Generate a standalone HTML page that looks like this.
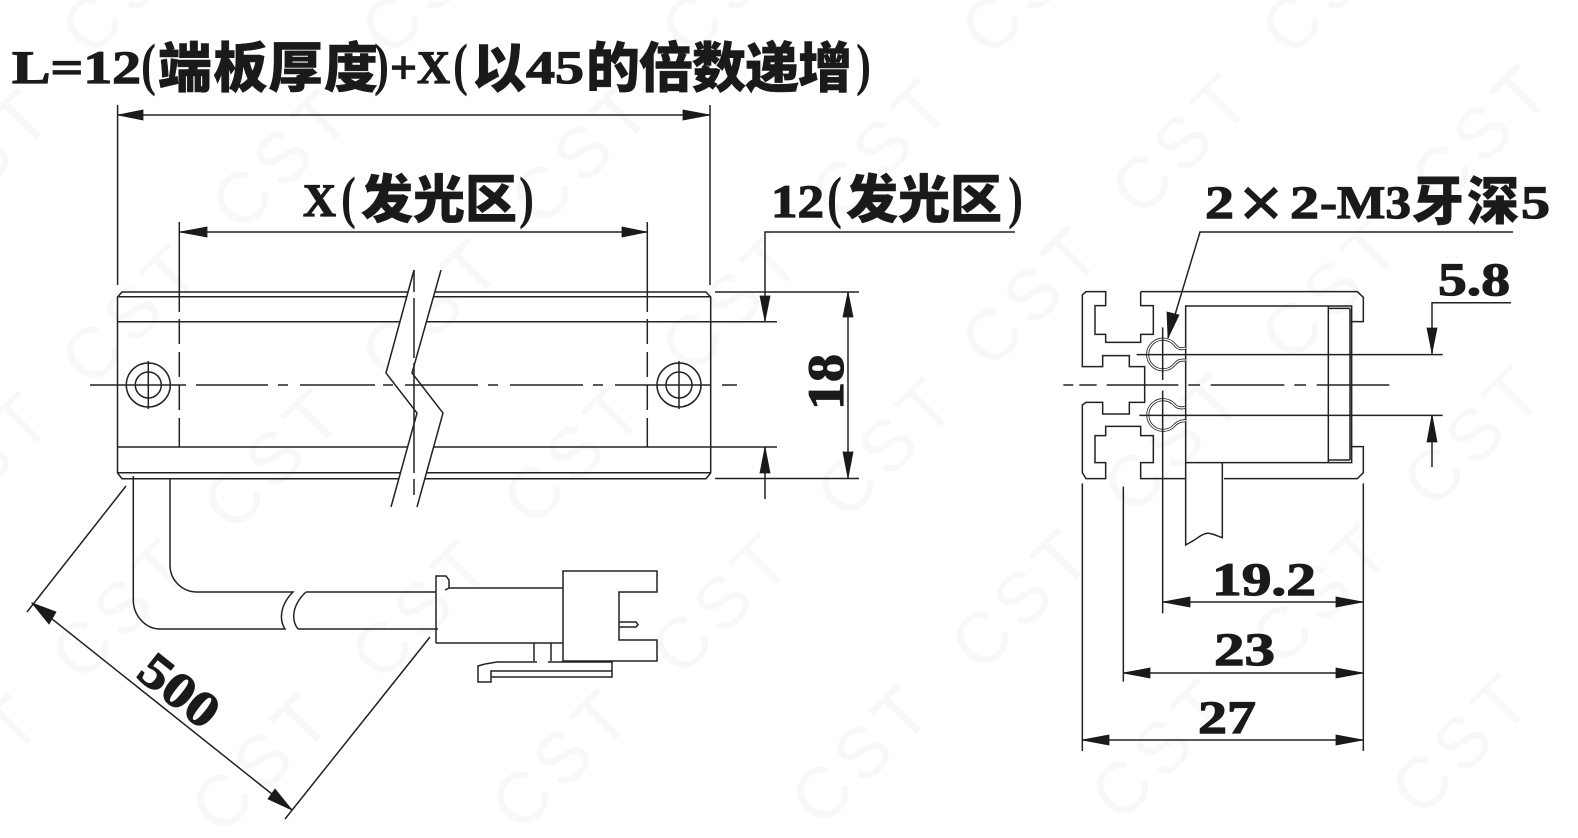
<!DOCTYPE html>
<html><head><meta charset="utf-8"><style>
html,body{margin:0;padding:0;background:#fff}
svg{display:block}
.l{font-family:"Liberation Serif",serif;font-weight:700;font-size:47px;fill:#1a1a1a;stroke:#1a1a1a;stroke-width:1.2px}
.c{font-family:"Noto Sans CJK SC","Noto Serif CJK SC",sans-serif;font-weight:900;fill:#1a1a1a;stroke:#1a1a1a;stroke-width:.5px}
.p{font-family:"Liberation Serif",serif;font-weight:700;font-size:58px;fill:#1a1a1a}
.w{font-family:"Liberation Sans",sans-serif;font-size:72px;letter-spacing:8px;fill:#f8f8f8;text-anchor:middle}
.s{fill:none;stroke:#222;stroke-width:1.5}
.a{fill:#1a1a1a;stroke:#1a1a1a;stroke-width:.8}
</style></head><body>
<svg width="1578" height="838" viewBox="0 0 1578 838" xmlns="http://www.w3.org/2000/svg">
<rect width="1578" height="838" fill="#fff"/>
<g>
<text class="w" transform="translate(150,0) rotate(-45)">CST</text><text class="w" transform="translate(450,0) rotate(-45)">CST</text><text class="w" transform="translate(750,0) rotate(-45)">CST</text><text class="w" transform="translate(1050,0) rotate(-45)">CST</text><text class="w" transform="translate(1350,0) rotate(-45)">CST</text>
<text class="w" transform="translate(0,175) rotate(-45)">CST</text><text class="w" transform="translate(300,175) rotate(-45)">CST</text><text class="w" transform="translate(600,170) rotate(-45)">CST</text><text class="w" transform="translate(900,165) rotate(-45)">CST</text><text class="w" transform="translate(1200,160) rotate(-45)">CST</text><text class="w" transform="translate(1500,150) rotate(-45)">CST</text>
<text class="w" transform="translate(150,330) rotate(-45)">CST</text><text class="w" transform="translate(450,325) rotate(-45)">CST</text><text class="w" transform="translate(750,318) rotate(-45)">CST</text><text class="w" transform="translate(1050,312) rotate(-45)">CST</text><text class="w" transform="translate(1350,306) rotate(-45)">CST</text>
<text class="w" transform="translate(0,478) rotate(-45)">CST</text><text class="w" transform="translate(292,475) rotate(-45)">CST</text><text class="w" transform="translate(592,470) rotate(-45)">CST</text><text class="w" transform="translate(905,463) rotate(-45)">CST</text><text class="w" transform="translate(1192,458) rotate(-45)">CST</text><text class="w" transform="translate(1492,452) rotate(-45)">CST</text>
<text class="w" transform="translate(140,625) rotate(-45)">CST</text><text class="w" transform="translate(440,625) rotate(-45)">CST</text><text class="w" transform="translate(740,620) rotate(-45)">CST</text><text class="w" transform="translate(1040,615) rotate(-45)">CST</text><text class="w" transform="translate(1340,610) rotate(-45)">CST</text>
<text class="w" transform="translate(-10,780) rotate(-45)">CST</text><text class="w" transform="translate(280,778) rotate(-45)">CST</text><text class="w" transform="translate(580,775) rotate(-45)">CST</text><text class="w" transform="translate(880,770) rotate(-45)">CST</text><text class="w" transform="translate(1180,765) rotate(-45)">CST</text><text class="w" transform="translate(1480,760) rotate(-45)">CST</text>
</g>

<!-- Title -->
<text class="l" x="12" y="83" textLength="129" lengthAdjust="spacingAndGlyphs">L=12</text>
<text class="p" x="141" y="84" textLength="15" lengthAdjust="spacingAndGlyphs">(</text>
<text class="c" x="158" y="87" font-size="54" textLength="220" lengthAdjust="spacing">端板厚度</text>
<text class="p" x="374" y="84" textLength="15" lengthAdjust="spacingAndGlyphs">)</text>
<text class="l" x="390" y="83" textLength="27" lengthAdjust="spacingAndGlyphs">+</text>
<text class="l" x="417" y="83" textLength="33" lengthAdjust="spacingAndGlyphs">X</text>
<text class="p" x="453" y="84" textLength="15" lengthAdjust="spacingAndGlyphs">(</text>
<text class="c" x="472" y="87" font-size="54">以</text>
<text class="l" x="526" y="83" textLength="58" lengthAdjust="spacingAndGlyphs">45</text>
<text class="c" x="586" y="87" font-size="54" textLength="266" lengthAdjust="spacing">的倍数递增</text>
<text class="p" x="856" y="84" textLength="15" lengthAdjust="spacingAndGlyphs">)</text>

<!-- L dim -->
<path class="s" d="M117.6,105V285M710,105V285M118,115H710"/>
<polygon class="a" points="118,115 143,110 143,120"/><polygon class="a" points="710,115 683,110 683,120"/>

<!-- X dim -->
<text class="l" x="303" y="216" textLength="33" lengthAdjust="spacingAndGlyphs">X</text>
<text class="p" x="341" y="217" textLength="15" lengthAdjust="spacingAndGlyphs">(</text>
<text class="c" x="361" y="218" font-size="52" textLength="156" lengthAdjust="spacing">发光区</text>
<text class="p" x="519" y="217" textLength="15" lengthAdjust="spacingAndGlyphs">)</text>
<path class="s" d="M179.5,232H647"/>
<polygon class="a" points="180,232 207,227 207,237"/><polygon class="a" points="647,232 622,227 622,237"/>

<!-- Main bar -->
<path class="s" d="M122,292H706L710.7,297V473L706,478.7H122L117.5,473V297Z M117.5,296.7H710.7 M117.5,321.7H710.7 M117.5,447H710.7 M117.5,472.7H710.7"/>
<path class="s" d="M133.3,476V600C133.3,615 145,629 160,629H285C279,620 280,605 293,592H197C182,592 170,580 170,565V478"/>
<path class="s" d="M306,592H436M298,629C291,620 292,605 306,592M298,629H438"/>

<!-- Break -->
<polygon fill="#fff" points="414,270 386,373 417,413 391,507 417,507 443,413 412,373 441,270"/>
<path class="s" d="M414,270L386,373L417,413L391,507M441,270L412,373L443,413L417,507"/>
<path class="s" d="M414,270V495" stroke-dasharray="22 6 60 5 110 6"/>

<!-- Centre lines -->
<path class="s" d="M90,385H186" stroke-width="1.2"/>
<path class="s" stroke-width="1.2" d="M196,385H268M278,385H288M300,385H375M383,385H393M405,385H478M488,385H498M510,385H583M593,385H603M615,385H710M722,385H737"/>
<path class="s" d="M179.3,222V312M179.3,319V344M179.3,352V377M179.3,385V410M179.3,418V447M647.3,222V312M647.3,319V344M647.3,352V377M647.3,385V410M647.3,418V447"/>
<g class="s" stroke-width="1.2">
<circle cx="148.3" cy="385" r="22"/><circle cx="148.3" cy="385" r="13"/><path d="M148.3,361V409"/>
<circle cx="679" cy="385" r="22"/><circle cx="679" cy="385" r="13"/><path d="M679,361V409"/>
</g>

<!-- 12 dim -->
<text class="l" x="771" y="217" textLength="53" lengthAdjust="spacingAndGlyphs">12</text>
<text class="p" x="827" y="217" textLength="15" lengthAdjust="spacingAndGlyphs">(</text>
<text class="c" x="846" y="218" font-size="52" textLength="156" lengthAdjust="spacing">发光区</text>
<text class="p" x="1008" y="217" textLength="15" lengthAdjust="spacingAndGlyphs">)</text>
<path class="s" d="M1015,232H765V322M715,292H859M710,321.7H777M710,447H777M715,478.5H859M765,447V499M848,292V478"/>
<polygon class="a" points="765,321 760,296 770,296"/><polygon class="a" points="765,447 760,473 770,473"/>
<polygon class="a" points="848,292 843,317 853,317"/><polygon class="a" points="848,478 843,452 853,452"/>
<text class="l" transform="translate(843,410) rotate(-90)" font-size="51" textLength="56" lengthAdjust="spacingAndGlyphs" style="font-size:51px">18</text>

<!-- 500 dim -->
<path class="s" stroke-width="1.2" d="M126,486L27,612M430,637L285,819M32,603L292,810"/>
<polygon class="a" points="32,603 56,612 49,624" /><polygon class="a" points="292,810 268,799 275,789"/>
<text class="l" transform="translate(179,691) rotate(38.5)" text-anchor="middle" y="16" textLength="88" lengthAdjust="spacingAndGlyphs" style="font-size:50px">500</text>

<!-- Connector -->
<path class="s" d="M436,643V576H446L449,580V588L445,590M449,588H563M436,643H563M563,571H657V592H619V640H657V661H563Z M619,622H636L638,624.5L636,627H619M534,643V661M551,643V661M612,661V677H491V682H478V666L485,664L497,662H537M548,662H612M491,677V671H612"/>

<!-- Right view -->
<g transform="translate(1050,270) scale(.33333)" fill="none" stroke="#222" stroke-width="4.5">
<path d="M272,65H922L940,82V155H902M902,530H940V608L922,626H522M405,626H272V578H310V497H272V469H167V497H135V578H167V626H108L97,608V405L108,397H158V432H238V397H284V290H238V257H158V290H97V75L108,65H167V107H135V193H167V217H272V193H310V107H272V65"/>
<path d="M407,108H905V578H407ZM835,108V578M900,115V570M835,115H900M835,570H900"/>
<path d="M407,578V825L430,812C445,803 455,792 470,790C485,788 500,798 517,803V578"/>
<path d="M407,234C395,238 385,238 375,225A46,46 0 1 0 375,282C385,270 395,270 407,270" stroke-width="9"/>
<path d="M407,234C395,238 385,238 375,225A46,46 0 1 0 375,282C385,270 395,270 407,270" stroke="#fff" stroke-width="4"/>
<path d="M405,412C395,415 385,415 375,406A46,46 0 1 0 375,464C385,454 395,453 407,452" stroke-width="9"/>
<path d="M405,412C395,415 385,415 375,406A46,46 0 1 0 375,464C385,454 395,453 407,452" stroke="#fff" stroke-width="4"/>
<path d="M338,172V330M338,362V1030M97,640V1443M220,650V1235M940,640V1443"/>
<path d="M260,254H1178M268,436H1178"/>
<path d="M40,345H70M88,345H140M170,345H385M415,345H450M482,345H703M733,345H768M800,345H1018"/>
</g>

<!-- Leader 2x2-M3 -->
<text class="l" x="1205" y="218" textLength="29" lengthAdjust="spacingAndGlyphs">2</text>
<path d="M1246,189L1276,217M1276,189L1246,217" fill="none" stroke="#1a1a1a" stroke-width="6"/>
<text class="l" x="1290" y="218" textLength="29" lengthAdjust="spacingAndGlyphs">2</text>
<text class="l" x="1320" y="218" textLength="91" lengthAdjust="spacingAndGlyphs">-M3</text>
<text class="c" x="1412" y="220" font-size="52" textLength="107" lengthAdjust="spacing">牙深</text>
<text class="l" x="1521" y="218" textLength="29" lengthAdjust="spacingAndGlyphs">5</text>
<path class="s" d="M1513,232H1200L1168,338"/>
<polygon class="a" points="1168,338 1167,312 1179,315"/>

<!-- 5.8 -->
<text class="l" x="1438" y="295" textLength="72" lengthAdjust="spacingAndGlyphs">5.8</text>
<path class="s" d="M1511,302.7H1432V354M1432,415V467"/>
<polygon class="a" points="1432,353 1427,328 1437,328"/><polygon class="a" points="1432,415 1427,442 1437,442"/>

<!-- Bottom dims -->
<text class="l" x="1212" y="595" textLength="104" lengthAdjust="spacingAndGlyphs">19.2</text>
<text class="l" x="1214" y="665" textLength="61" lengthAdjust="spacingAndGlyphs">23</text>
<text class="l" x="1198" y="733" textLength="58" lengthAdjust="spacingAndGlyphs">27</text>
<path class="s" d="M1162.7,602H1363M1123,673H1363M1082,740H1363"/>
<polygon class="a" points="1163,602 1190,597 1190,607"/><polygon class="a" points="1363,602 1336,597 1336,607"/>
<polygon class="a" points="1123,673 1150,668 1150,678"/><polygon class="a" points="1363,673 1336,668 1336,678"/>
<polygon class="a" points="1082,740 1109,735 1109,745"/><polygon class="a" points="1363,740 1336,735 1336,745"/>
</svg>
</body></html>
